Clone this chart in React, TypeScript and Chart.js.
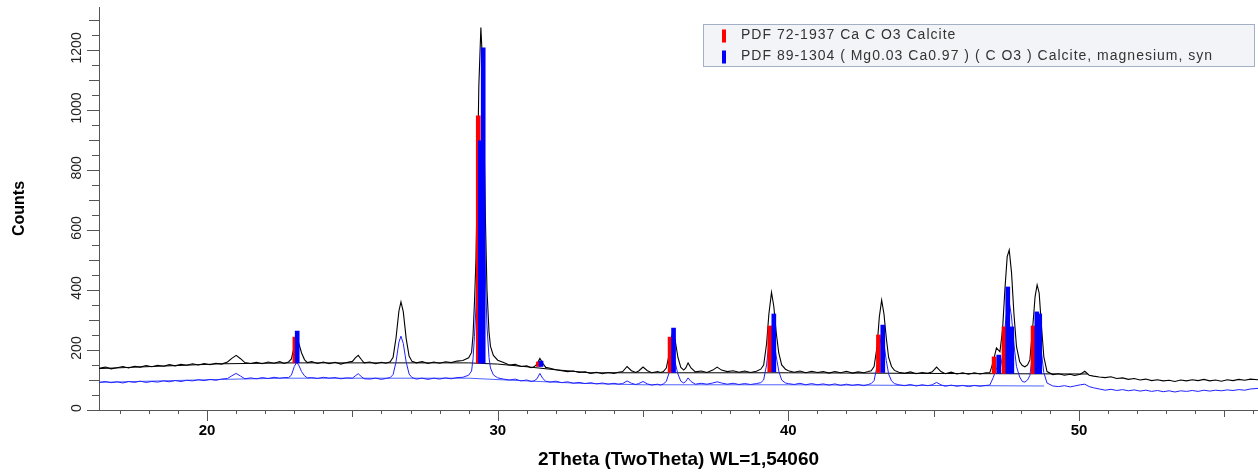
import React, { useEffect, useRef } from 'react';
import { Chart, registerables } from 'chart.js';

Chart.register(...registerables);

// ---- axis ranges & tick labels ----
const xRange: [number, number] = [16.28, 56.16];
const yRange: [number, number] = [0, 1343];
const xLabelTicks = [20, 30, 40, 50];
const yLabelTicks = [0, 200, 400, 600, 800, 1000, 1200];

const xTitle = '2Theta (TwoTheta) WL=1,54060';
const yTitle = 'Counts';

// ---- measured scan (black) [2theta, counts] ----
const measuredScan: [number, number][] = [
  [16.28, 139], [16.5, 143], [16.7, 137], [16.9, 141], [17.1, 145], [17.3, 140], [17.5, 146], [17.7, 143],
  [17.9, 148], [18.1, 144], [18.3, 149], [18.5, 146], [18.7, 151], [18.9, 147], [19.1, 152], [19.3, 149],
  [19.5, 154], [19.7, 150], [19.9, 155], [20.1, 151], [20.3, 156], [20.5, 153],
  [20.7, 160], [20.85, 172], [21.0, 182], [21.15, 171], [21.3, 158],
  [21.5, 155], [21.7, 159], [21.9, 154], [22.1, 160], [22.3, 156], [22.5, 161], [22.65, 155],
  [22.8, 160], [22.9, 170], [23.0, 212], [23.08, 234], [23.15, 224], [23.25, 190], [23.35, 168], [23.45, 158],
  [23.6, 161], [23.8, 155], [24.0, 160], [24.2, 154], [24.4, 159], [24.6, 153], [24.8, 158],
  [25.0, 162], [25.1, 174], [25.2, 182], [25.3, 169], [25.4, 157],
  [25.6, 160], [25.8, 154], [26.0, 159], [26.15, 156],
  [26.3, 161], [26.4, 176], [26.5, 240], [26.6, 330], [26.67, 360], [26.75, 328], [26.85, 238], [26.95, 180], [27.05, 162],
  [27.2, 157], [27.4, 161], [27.6, 155], [27.8, 160], [28.0, 156], [28.2, 161], [28.4, 158], [28.6, 163], [28.8, 165],
  [29.0, 174], [29.1, 192], [29.15, 250], [29.2, 360], [29.25, 500], [29.3, 780], [29.35, 1080], [29.42, 1275],
  [29.48, 1150], [29.53, 900], [29.58, 620], [29.63, 400], [29.7, 260], [29.75, 212], [29.85, 182], [30.0, 166], [30.2, 158],
  [30.4, 150], [30.6, 152], [30.8, 145], [31.0, 147], [31.15, 141],
  [31.25, 144], [31.35, 153], [31.45, 172], [31.55, 156], [31.65, 142],
  [31.8, 139], [32.0, 134], [32.2, 131], [32.4, 128], [32.6, 130], [32.8, 125], [33.0, 127], [33.2, 122],
  [33.4, 126], [33.6, 121], [33.8, 125], [34.0, 122], [34.15, 126],
  [34.3, 128], [34.45, 145], [34.6, 131], [34.75, 125], [34.85, 130], [35.0, 143], [35.15, 131], [35.3, 124], [35.5, 128], [35.6, 125],
  [35.7, 128], [35.8, 140], [35.9, 185], [35.97, 240], [36.03, 262], [36.1, 235], [36.2, 175], [36.3, 142], [36.4, 133],
  [36.47, 140], [36.55, 157], [36.65, 140], [36.8, 127], [37.0, 130], [37.2, 125], [37.4, 133], [37.55, 143], [37.7, 133],
  [37.9, 128], [38.1, 131], [38.3, 126], [38.5, 130], [38.7, 125], [38.9, 129], [39.05, 136],
  [39.15, 150], [39.25, 220], [39.33, 320], [39.42, 392], [39.5, 345], [39.58, 260], [39.67, 190], [39.77, 150], [39.9, 136], [40.0, 131],
  [40.2, 126], [40.4, 130], [40.6, 124], [40.8, 129], [41.0, 125], [41.2, 128], [41.4, 123], [41.6, 128],
  [41.8, 124], [42.0, 129], [42.2, 123], [42.4, 127], [42.6, 124], [42.75, 128],
  [42.85, 131], [42.95, 145], [43.05, 210], [43.13, 310], [43.21, 366], [43.29, 320], [43.37, 240], [43.45, 175], [43.55, 145], [43.65, 132],
  [43.8, 126], [44.0, 122], [44.2, 127], [44.4, 121], [44.6, 125], [44.8, 122], [44.95, 127], [45.1, 143], [45.25, 128],
  [45.4, 121], [45.6, 126], [45.8, 120], [46.0, 124], [46.2, 119], [46.4, 124], [46.6, 120], [46.8, 124], [46.93, 124],
  [47.05, 161], [47.16, 207], [47.28, 194], [47.37, 267], [47.45, 400], [47.53, 511], [47.6, 533], [47.68, 457],
  [47.76, 323], [47.85, 211], [47.96, 161], [48.05, 148], [48.14, 144], [48.23, 150], [48.31, 167], [48.42, 290],
  [48.49, 378], [48.56, 417], [48.63, 390], [48.71, 278], [48.79, 178], [48.9, 128], [49.1, 118],
  [49.3, 121], [49.5, 116], [49.7, 119], [49.85, 115], [50.05, 119], [50.2, 129], [50.35, 116], [50.5, 113],
  [50.7, 110], [50.9, 108], [51.1, 111], [51.3, 105], [51.5, 107], [51.7, 102], [51.9, 105], [52.1, 100],
  [52.3, 103], [52.5, 98], [52.7, 101], [52.9, 97], [53.1, 99], [53.3, 95], [53.5, 100], [53.7, 97],
  [53.9, 101], [54.1, 98], [54.3, 102], [54.5, 97], [54.7, 100], [54.9, 96], [55.1, 101], [55.3, 98],
  [55.5, 102], [55.7, 99], [55.9, 103], [56.16, 101],
];

// ---- second (blue) scan [2theta, counts] ----
const secondScan: [number, number][] = [
  [16.28, 92], [16.5, 95], [16.7, 91], [16.9, 94], [17.1, 90], [17.3, 95], [17.5, 92], [17.7, 96],
  [17.9, 92], [18.1, 95], [18.3, 93], [18.5, 97], [18.7, 94], [18.9, 98], [19.1, 95], [19.3, 99],
  [19.5, 97], [19.7, 101], [19.9, 98], [20.1, 102], [20.3, 99], [20.5, 103],
  [20.7, 105], [20.85, 114], [21.0, 122], [21.15, 113], [21.3, 104],
  [21.5, 107], [21.7, 104], [21.9, 108], [22.1, 105], [22.3, 109], [22.5, 106], [22.65, 108],
  [22.8, 108], [22.9, 116], [23.0, 145], [23.08, 158], [23.15, 150], [23.25, 128], [23.35, 114], [23.45, 107],
  [23.6, 108], [23.8, 105], [24.0, 109], [24.2, 106], [24.4, 108], [24.6, 104], [24.8, 107],
  [25.0, 106], [25.1, 114], [25.2, 121], [25.3, 112], [25.4, 104],
  [25.6, 103], [25.8, 106], [26.0, 102], [26.15, 105],
  [26.3, 108], [26.4, 118], [26.5, 160], [26.6, 226], [26.67, 246], [26.75, 222], [26.85, 160], [26.95, 120], [27.05, 108],
  [27.2, 103], [27.4, 106], [27.6, 102], [27.8, 106], [28.0, 103], [28.2, 107], [28.4, 104], [28.6, 108], [28.8, 109],
  [29.0, 116], [29.1, 130], [29.15, 170], [29.2, 245], [29.25, 340], [29.3, 530], [29.35, 740], [29.42, 895],
  [29.48, 800], [29.53, 630], [29.58, 430], [29.63, 280], [29.7, 175], [29.75, 140], [29.85, 117], [30.0, 107], [30.2, 103],
  [30.4, 100], [30.6, 103], [30.8, 97], [31.0, 100], [31.15, 95],
  [31.25, 97], [31.35, 104], [31.45, 122], [31.55, 105], [31.65, 96],
  [31.8, 93], [32.0, 96], [32.2, 91], [32.4, 94], [32.6, 89], [32.8, 92], [33.0, 88], [33.2, 91],
  [33.4, 87], [33.6, 90], [33.8, 86], [34.0, 89], [34.15, 86],
  [34.3, 88], [34.45, 97], [34.6, 89], [34.75, 85], [34.85, 88], [35.0, 95], [35.15, 87], [35.3, 83], [35.5, 86], [35.6, 83],
  [35.7, 87], [35.8, 95], [35.9, 125], [35.97, 165], [36.03, 180], [36.1, 160], [36.2, 120], [36.3, 96], [36.4, 90],
  [36.47, 95], [36.55, 107], [36.65, 95], [36.8, 86], [37.0, 89], [37.2, 86], [37.4, 90], [37.55, 94], [37.7, 90],
  [37.9, 86], [38.1, 89], [38.3, 85], [38.5, 88], [38.7, 85], [38.9, 88], [39.05, 91],
  [39.15, 100], [39.25, 150], [39.33, 220], [39.42, 265], [39.5, 235], [39.58, 180], [39.67, 130], [39.77, 100], [39.9, 90], [40.0, 88],
  [40.2, 85], [40.4, 89], [40.6, 84], [40.8, 88], [41.0, 84], [41.2, 87], [41.4, 83], [41.6, 87],
  [41.8, 82], [42.0, 86], [42.2, 82], [42.4, 85], [42.6, 81], [42.75, 85],
  [42.85, 88], [42.95, 98], [43.05, 145], [43.13, 210], [43.21, 250], [43.29, 220], [43.37, 165], [43.45, 120], [43.55, 97], [43.65, 88],
  [43.8, 84], [44.0, 81], [44.2, 85], [44.4, 80], [44.6, 84], [44.8, 81], [44.95, 84], [45.1, 92], [45.25, 84],
  [45.4, 79], [45.6, 83], [45.8, 79], [46.0, 82], [46.2, 78], [46.4, 82], [46.6, 79], [46.8, 82], [46.93, 83],
  [47.05, 108], [47.16, 140], [47.28, 132], [47.37, 180], [47.45, 270], [47.53, 345], [47.6, 360], [47.68, 310],
  [47.76, 220], [47.85, 145], [47.96, 110], [48.05, 95], [48.14, 93], [48.23, 100], [48.31, 115], [48.42, 200],
  [48.49, 255], [48.56, 285], [48.63, 265], [48.71, 190], [48.79, 125], [48.9, 90], [49.1, 80],
  [49.3, 78], [49.5, 81], [49.7, 77], [49.85, 80], [50.05, 84], [50.2, 86], [50.35, 78], [50.5, 74],
  [50.7, 70], [50.9, 66], [51.1, 69], [51.3, 65], [51.5, 68], [51.7, 64], [51.9, 67], [52.1, 63],
  [52.3, 66], [52.5, 62], [52.7, 65], [52.9, 61], [53.1, 64], [53.3, 60], [53.5, 64], [53.7, 62],
  [53.9, 65], [54.1, 62], [54.3, 66], [54.5, 63], [54.7, 66], [54.9, 64], [55.1, 67], [55.3, 65],
  [55.5, 68], [55.7, 66], [55.9, 70], [56.16, 72],
];

// ---- fitted backgrounds ----
const measuredBackground: [number, number][] = [
  [16.28, 138], [20.5, 154], [23.0, 157], [29.0, 157], [30.0, 153], [31.0, 144], [32.0, 134], [33.2, 124],
  [40.0, 124], [46.9, 121], [50.3, 120],
];
const secondBackground: [number, number][] = [
  [16.28, 92], [20.5, 102], [22.6, 106], [29.0, 106], [30.5, 99], [32.8, 89], [35.0, 84], [40.0, 84], [48.8, 80],
];

// ---- reference patterns (sticks) ----
const calciteLabel = 'PDF 72-1937 Ca C O3 Calcite';
const calciteAngles = [23.02, 29.33, 31.4, 35.93, 39.36, 43.1, 47.08, 47.42, 48.42];
const calciteBase = [157, 156, 145, 125, 127, 125, 122, 122, 121];
const calciteTop = [243, 980, 160, 243, 280, 250, 177, 277, 280];

const mgCalciteLabel = 'PDF 89-1304 ( Mg0.03 Ca0.97 ) ( C O3 ) Calcite, magnesium, syn';
const mgCalciteAngles = [23.1, 29.4, 29.5, 31.49, 36.05, 39.5, 43.25, 47.24, 47.55, 47.69, 48.55, 48.65];
const mgCalciteBase = [157, 156, 156, 145, 125, 127, 125, 122, 122, 122, 121, 121];
const mgCalciteTop = [263, 897, 1207, 163, 273, 320, 283, 183, 410, 277, 327, 320];

const FONT = '"Liberation Sans", Arial, Helvetica, sans-serif';

const decorPlugin = {
  id: 'decor',
  afterDraw(chart: any) {
    const { ctx, chartArea, scales } = chart;
    const xs = scales.x;
    const ys = scales.y;
    ctx.save();
    ctx.strokeStyle = '#555';
    ctx.lineWidth = 1;
    ctx.beginPath();
    for (let v = Math.ceil(xs.min); v <= xs.max; v++) {
      const px = Math.round(xs.getPixelForValue(v)) + 0.5;
      const len = v % 10 === 0 ? 11 : v % 5 === 0 ? 7 : 4;
      ctx.moveTo(px, chartArea.bottom);
      ctx.lineTo(px, chartArea.bottom + len);
    }
    for (let v = 0; v <= ys.max; v += 50) {
      const py = Math.round(ys.getPixelForValue(v)) + 0.5;
      const len = v % 200 === 0 ? 12 : v % 100 === 0 ? 10 : 7;
      ctx.moveTo(chartArea.left - len, py);
      ctx.lineTo(chartArea.left, py);
    }
    ctx.stroke();

    ctx.fillStyle = '#222';
    ctx.font = '14px ' + FONT;
    ctx.textAlign = 'center';
    ctx.textBaseline = 'middle';
    for (const v of yLabelTicks) {
      const py = ys.getPixelForValue(v);
      ctx.save();
      ctx.translate(chartArea.left - 22, py - 2);
      ctx.rotate(-Math.PI / 2);
      ctx.fillText(String(v), 0, 0);
      ctx.restore();
    }

    // legend
    const lx = 703.5, ly = 24.5, lw = 551, lh = 42;
    ctx.fillStyle = '#f3f4f7';
    ctx.fillRect(lx, ly, lw, lh);
    ctx.strokeStyle = '#a3afc4';
    ctx.strokeRect(lx, ly, lw, lh);
    const entries = [chart.data.datasets[1], chart.data.datasets[0]];
    ctx.font = '14px ' + FONT;
    (ctx as any).letterSpacing = '1px';
    ctx.textAlign = 'left';
    entries.forEach((ds: any, i: number) => {
      const cy = 35.5 + i * 21;
      ctx.fillStyle = ds.backgroundColor;
      ctx.fillRect(722, cy - 6, 4, 13);
      ctx.fillStyle = '#333';
      ctx.fillText(ds.label, 741, cy);
    });
    ctx.restore();
  },
};

export default function App() {
  const ref = useRef<HTMLCanvasElement | null>(null);
  useEffect(() => {
    document.body.style.margin = '0';
    const canvas = ref.current;
    if (!canvas) return;
    Chart.defaults.font.family = FONT;
    const toXY = (arr: [number, number][]) => arr.map(([x, y]) => ({ x, y }));
    const chart = new Chart(canvas, {
      type: 'line',
      data: {
        datasets: [
          {
            type: 'bar',
            label: mgCalciteLabel,
            data: mgCalciteAngles.map((a, i) => ({ x: a, y: [mgCalciteBase[i], mgCalciteTop[i]] })),
            backgroundColor: '#0000ff',
            borderWidth: 0,
            barThickness: 4,
            grouped: false,
            order: 0,
          } as any,
          {
            type: 'bar',
            label: calciteLabel,
            data: calciteAngles.map((a, i) => ({ x: a, y: [calciteBase[i], calciteTop[i]] })),
            backgroundColor: '#ff0000',
            borderWidth: 0,
            barThickness: 4,
            grouped: false,
            order: 1,
          } as any,
          {
            type: 'line',
            label: 'measured',
            data: toXY(measuredScan),
            borderColor: '#000000',
            borderWidth: 1.1,
            pointRadius: 0,
            tension: 0,
            order: 2,
          },
          {
            type: 'line',
            label: 'second',
            data: toXY(secondScan),
            borderColor: '#2020ff',
            borderWidth: 1,
            pointRadius: 0,
            tension: 0,
            order: 3,
          },
          {
            type: 'line',
            label: 'bg1',
            data: toXY(measuredBackground),
            borderColor: '#000000',
            borderWidth: 1,
            pointRadius: 0,
            tension: 0,
            order: 4,
          },
          {
            type: 'line',
            label: 'bg2',
            data: toXY(secondBackground),
            borderColor: '#4f62ff',
            borderWidth: 1,
            pointRadius: 0,
            tension: 0,
            order: 5,
          },
        ],
      },
      options: {
        responsive: false,
        animation: false,
        devicePixelRatio: 1,
        layout: { padding: { left: 0, right: 0, top: 7, bottom: 0 } },
        plugins: { legend: { display: false }, tooltip: { enabled: false } },
        scales: {
          x: {
            type: 'linear',
            min: xRange[0],
            max: xRange[1],
            offset: false,
            grid: { display: false, drawTicks: false },
            border: { display: true, color: '#555', width: 1 },
            afterFit: (s: any) => { s.height = 62; s.paddingLeft = 0; s.paddingRight = 0; },
            ticks: {
              stepSize: 1,
              autoSkip: false,
              maxRotation: 0,
              minRotation: 0,
              padding: 12,
              color: '#000',
              font: { size: 15, weight: 'bold', family: FONT },
              callback: (v: any) => (xLabelTicks.includes(Number(v)) ? String(v) : ''),
            },
            title: {
              display: true,
              text: xTitle,
              color: '#000',
              font: { size: 19, weight: 'bold', family: FONT },
              padding: { top: 9, bottom: 0.6 },
            },
          },
          y: {
            type: 'linear',
            min: yRange[0],
            max: yRange[1],
            grid: { display: false, drawTicks: false },
            border: { display: true, color: '#555', width: 1 },
            afterFit: (s: any) => { s.width = 99; s.paddingTop = 0; s.paddingBottom = 0; },
            ticks: { display: false },
            title: {
              display: true,
              text: yTitle,
              color: '#000',
              font: { size: 16, weight: 'bold', family: FONT },
              padding: { top: 10, bottom: 10 },
            },
          },
        },
      },
      plugins: [decorPlugin],
    } as any);
    return () => chart.destroy();
  }, []);
  return (
    <div style={{ width: 1258, height: 472 }}>
      <canvas ref={ref} width={1258} height={472} style={{ display: 'block' }} />
    </div>
  );
}
